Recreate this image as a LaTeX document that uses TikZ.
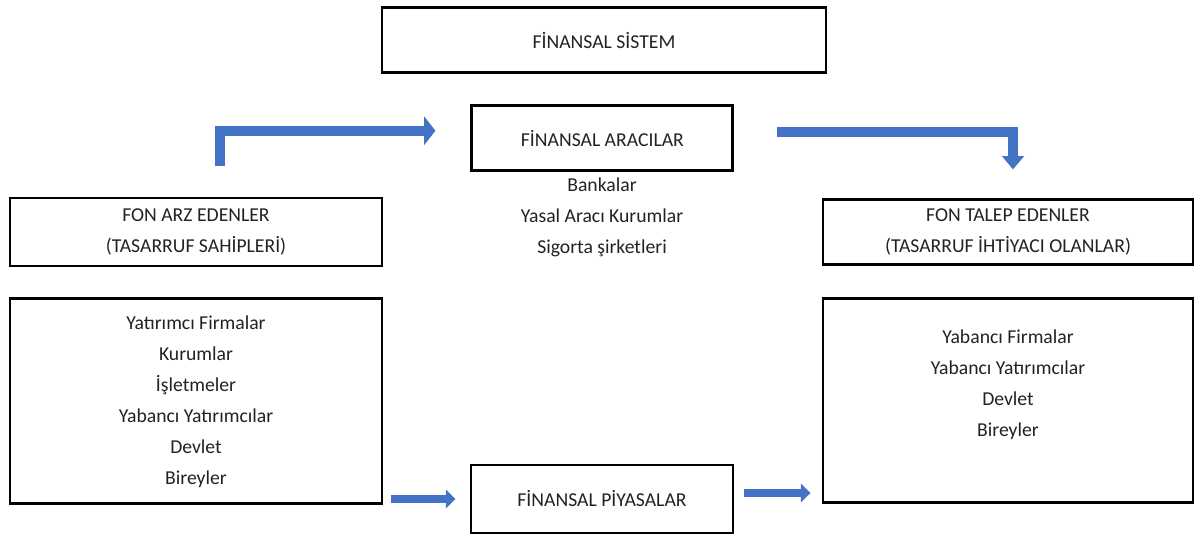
\documentclass[tikz,border=0pt]{standalone}
\usepackage{fontspec}
\setmainfont{Carlito}
\usepackage{xcolor}
\definecolor{finText}{HTML}{222222}
\definecolor{finBlue}{HTML}{4472C4}
\usepackage{tikz}
\usetikzlibrary{arrows.meta,positioning,calc}
\tikzset{
    box/.style={
        draw=black,
        fill=white,
        rectangle,
        line width=2.1pt,
        align=center,
        inner sep=0pt,
        text=finText,
        font=\fontsize{14}{22}\selectfont
    },
    itemtext/.style={
        align=center,
        inner sep=0pt,
        text=finText,
        font=\fontsize{14}{22}\selectfont
    },
    bigarrow/.style={
        -{Triangle[length=0.28cm,width=0.7cm]},
        line width=0.25cm,
        line join=miter,
        color=finBlue
    },
    smallarrow/.style={
        -{Triangle[length=0.24cm,width=0.46cm]},
        line width=0.2cm,
        color=finBlue
    }
}

\begin{document}
\begin{tikzpicture}
    \useasboundingbox (0,0) rectangle (30,-13.4);

    % Top of the chart
    \node[box, minimum width=11.1cm, minimum height=1.625cm] (sistem) at (15.1,-1.01) {FİNANSAL SİSTEM};
    \node[box, minimum width=6.525cm, minimum height=1.625cm, below=0.75cm of sistem.south, anchor=north, xshift=-0.04cm] (aracilar) {FİNANSAL ARACILAR};
    \node[itemtext] (araclist) at (15.05,-5.44) {Bankalar\\Yasal Aracı Kurumlar\\Sigorta şirketleri};

    % Supply side
    \node[box, minimum width=9.3cm, minimum height=1.7cm] (arz) at (4.9,-5.8) {FON ARZ EDENLER\\(TASARRUF SAHİPLERİ)};
    \node[box, minimum width=9.3cm, minimum height=5.125cm, below=0.75cm of arz] (arzlist) {Yatırımcı Firmalar\\Kurumlar\\İşletmeler\\Yabancı Yatırımcılar\\Devlet\\Bireyler};

    % Demand side
    \node[box, minimum width=9.25cm, minimum height=1.625cm] (talep) at (25.2,-5.81) {FON TALEP EDENLER\\(TASARRUF İHTİYACI OLANLAR)};
    \node[box, minimum width=9.25cm, minimum height=5.1cm, below=0.775cm of talep] (taleplist) {};
    \node[itemtext] (talepitems) at ([yshift=0.41cm]taleplist.center) {Yabancı Firmalar\\Yabancı Yatırımcılar\\Devlet\\Bireyler};

    % Markets
    \node[box, minimum width=6.55cm, minimum height=1.7cm] (piyasalar) at (15.05,-12.475) {FİNANSAL PİYASALAR};

    % Arrows
    \draw[bigarrow, shorten <=0.775cm, shorten >=0.875cm] ([xshift=0.6cm]arz.north) |- ([yshift=0.19cm]aracilar.west);
    \draw[bigarrow, -{Triangle[length=0.33cm,width=0.53cm]}, shorten <=1.075cm, shorten >=0.725cm] ([yshift=0.16cm]aracilar.east) -| ([xshift=0.125cm]talep.north);
    \draw[smallarrow, shorten <=0.2cm, shorten >=0.35cm] (arzlist.east |- piyasalar.west) -- (piyasalar.west);
    \draw[smallarrow, shorten <=0.25cm, shorten >=0.275cm] ([yshift=0.15cm]piyasalar.east) -- ([yshift=0.15cm]piyasalar.east -| taleplist.west);
\end{tikzpicture}
\end{document}
